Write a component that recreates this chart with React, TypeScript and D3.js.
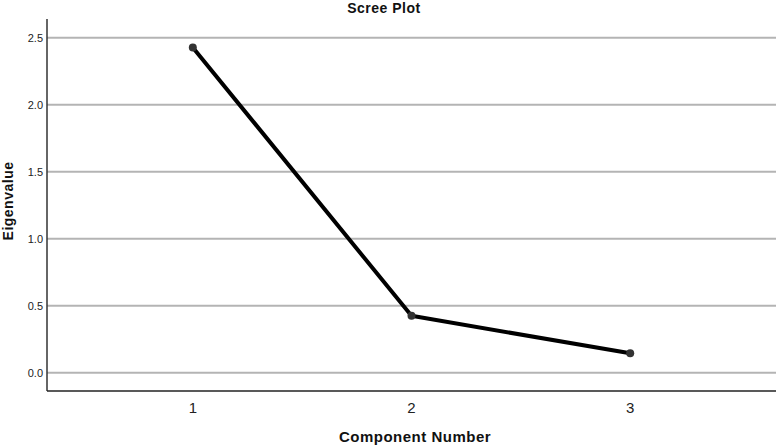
import { useMemo } from "react";
import * as d3 from "d3";

const WIDTH = 778;
const HEIGHT = 446;
const MARGIN = { top: 19, right: 2, bottom: 55, left: 47 };

const components = [1, 2, 3];
const eigenvalues = [2.428, 0.425, 0.145];
const yTicks = [0, 0.5, 1, 1.5, 2, 2.5];

const FONT = "'Liberation Sans', Arial, sans-serif";

export default function App() {
  const boundsWidth = WIDTH - MARGIN.left - MARGIN.right;
  const boundsHeight = HEIGHT - MARGIN.top - MARGIN.bottom;

  const xScale = useMemo(
    () => d3.scaleLinear().domain([1 / 3, 3 + 2 / 3]).range([0, boundsWidth]),
    [boundsWidth]
  );
  const yScale = useMemo(
    () => d3.scaleLinear().domain([-0.136, 2.64]).range([boundsHeight, 0]),
    [boundsHeight]
  );

  const pts = components.map((c, i) => [c, eigenvalues[i]] as [number, number]);
  const linePath = d3
    .line<[number, number]>()
    .x((d) => xScale(d[0]))
    .y((d) => yScale(d[1]))(pts);

  return (
    <svg
      width={WIDTH}
      height={HEIGHT}
      style={{ position: "absolute", left: 0, top: 0, background: "#fff" }}
    >
      <text
        x={384}
        y={13}
        textAnchor="middle"
        fontFamily={FONT}
        fontWeight="bold"
        fontSize={14}
        letterSpacing={0.5}
        fill="#111"
      >
        Scree Plot
      </text>
      <g transform={`translate(${MARGIN.left},${MARGIN.top})`}>
        {yTicks.map((t) => (
          <g key={t}>
            <line
              x1={0}
              x2={boundsWidth}
              y1={yScale(t)}
              y2={yScale(t)}
              stroke="#b4b4b4"
              strokeWidth={2}
            />
            <text
              x={-4}
              y={yScale(t)}
              dy="0.35em"
              textAnchor="end"
              fontFamily={FONT}
              fontSize={11}
              fill="#222"
            >
              {d3.format(".1f")(t)}
            </text>
          </g>
        ))}
        {components.map((c) => (
          <text
            key={c}
            x={xScale(c)}
            y={boundsHeight + 22}
            textAnchor="middle"
            fontFamily={FONT}
            fontSize={15}
            fill="#222"
          >
            {c}
          </text>
        ))}
        <line x1={0} x2={0} y1={0} y2={boundsHeight} stroke="#333" strokeWidth={1.5} />
        <line
          x1={0}
          x2={boundsWidth}
          y1={boundsHeight}
          y2={boundsHeight}
          stroke="#222"
          strokeWidth={1.5}
        />
        <path d={linePath ?? ""} fill="none" stroke="#000" strokeWidth={4} strokeLinejoin="round" />
        {pts.map((d) => (
          <circle key={d[0]} cx={xScale(d[0])} cy={yScale(d[1])} r={4} fill="#333" />
        ))}
      </g>
      <text
        x={415}
        y={442}
        textAnchor="middle"
        fontFamily={FONT}
        fontWeight="bold"
        fontSize={15}
        letterSpacing={0.5}
        fill="#111"
      >
        Component Number
      </text>
      <text
        transform={`translate(13,${MARGIN.top + boundsHeight / 2 - 4}) rotate(-90)`}
        textAnchor="middle"
        fontFamily={FONT}
        fontWeight="bold"
        fontSize={14}
        letterSpacing={0.5}
        fill="#111"
      >
        Eigenvalue
      </text>
    </svg>
  );
}
